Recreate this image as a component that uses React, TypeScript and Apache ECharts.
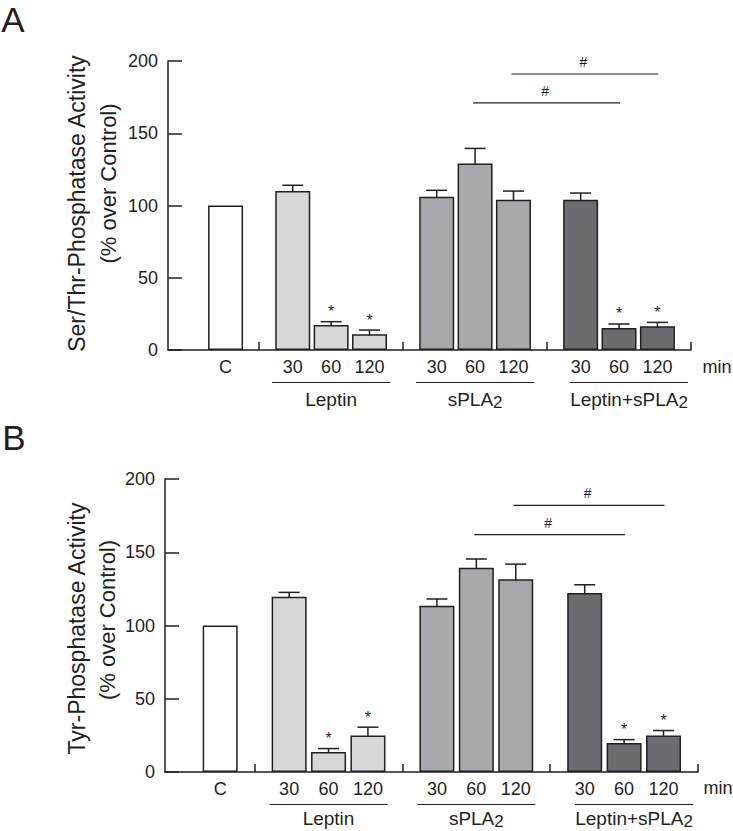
import React, { useEffect, useRef } from "react";
import * as echarts from "echarts";

// ---------- data ----------
const groups = ["Leptin", "sPLA2", "Leptin+sPLA2"];
const times = ["30", "60", "120"];
const controlLabel = "C";
const unitLabel = "min";

// Panel A: Ser/Thr-phosphatase activity (% over control)
const controlA = 100;
const leptinA = [110, 17.3, 10.9];
const leptinErrA = [4, 2.3, 2.9];
const splaA = [106, 129, 104];
const splaErrA = [4.5, 10.5, 6];
const bothA = [104, 15.2, 16.4];
const bothErrA = [4.6, 2.8, 2.7];
const starsA = [
  [false, true, true],
  [false, false, false],
  [false, true, true],
];
// [timeIndex, level]: sPLA2 vs Leptin+sPLA2 at same time
const hashA = [
  [1, 171],
  [2, 191],
];

// Panel B: Tyr-phosphatase activity (% over control)
const controlB = 100;
const leptinB = [119.6, 13.7, 24.9];
const leptinErrB = [3, 2.3, 5.7];
const splaB = [113.5, 139.5, 131.5];
const splaErrB = [4.6, 5.9, 10.4];
const bothB = [122.1, 19.8, 24.9];
const bothErrB = [5.7, 2.3, 3.4];
const starsB = [
  [false, true, true],
  [false, false, false],
  [false, true, true],
];
const hashB = [
  [1, 162],
  [2, 182],
];

const yTitlesA = ["Ser/Thr-Phosphatase Activity", "(% over Control)"];
const yTitlesB = ["Tyr-Phosphatase Activity", "(% over Control)"];

// ---------- styles ----------
const FONT = '"Liberation Sans", Arial, Helvetica, sans-serif';
const INK = "#231f20";
const controlColor = "#ffffff";
const groupColors = ["#d6d7d9", "#a7a8ab", "#6b6c70"];

// layout in axis units: control at 0, groups start at 7, step 15, bar pitch 4
const posOf = (g: number, i: number) => 7 + 15 * g + 4 * i;
const groupCenter = (g: number) => posOf(g, 1);
const separators = [0, 1, 2, 3].map((g) => posOf(g, 0) - 3.5);

const richName = (name: string) =>
  "{m|" + name.replace(/([A-Za-z])2$/, "$1}{s|2") + "}";

function buildPanel(
  idx: number,
  control: number,
  means: number[][],
  errs: number[][],
  stars: boolean[][],
  hashes: number[][],
  nameOffset: number
) {
  const barData: any[] = [
    { value: [0, control], itemStyle: { color: controlColor } },
  ];
  const errData: any[] = [];
  means.forEach((arr, g) =>
    arr.forEach((v, i) => {
      barData.push({ value: [posOf(g, i), v], itemStyle: { color: groupColors[g] } });
      errData.push([posOf(g, i), v, errs[g][i], stars[g][i] ? 1 : 0]);
    })
  );
  const hashData = hashes.map(([t, lvl]) => [posOf(1, t), posOf(2, t), lvl]);
  const groupData = groups.map((_, g) => [groupCenter(g), 0]);

  const common = { xAxisIndex: idx, yAxisIndex: idx, silent: true };
  return [
    {
      ...common,
      type: "bar",
      barWidth: 35,
      data: barData,
      itemStyle: { borderColor: INK, borderWidth: 1.5 },
    },
    {
      ...common,
      type: "custom",
      clip: false,
      z: 5,
      data: errData,
      renderItem: (params: any, api: any) => {
        const x = api.value(0);
        const v = api.value(1);
        const e = api.value(2);
        const s = api.value(3);
        const p0 = api.coord([x, v]);
        const p1 = api.coord([x, v + e]);
        const ls = { stroke: INK, lineWidth: 1.5 };
        const children: any[] = [
          { type: "line", shape: { x1: p0[0], y1: p0[1] + 1, x2: p1[0], y2: p1[1] }, style: ls },
          { type: "line", shape: { x1: p1[0] - 10.5, y1: p1[1], x2: p1[0] + 10.5, y2: p1[1] }, style: ls },
        ];
        if (s) {
          children.push({
            type: "text",
            style: {
              text: "*",
              x: p1[0],
              y: p1[1] - 10,
              align: "center",
              verticalAlign: "middle",
              font: `16px ${FONT}`,
              fill: INK,
            },
          });
        }
        return { type: "group", children };
      },
    },
    {
      ...common,
      type: "custom",
      clip: false,
      data: hashData,
      renderItem: (params: any, api: any) => {
        const a = api.coord([api.value(0), api.value(2)]);
        const b = api.coord([api.value(1), api.value(2)]);
        return {
          type: "group",
          children: [
            { type: "line", shape: { x1: a[0] - 2, y1: a[1], x2: b[0] + 1, y2: b[1] }, style: { stroke: INK, lineWidth: 1.2 } },
            {
              type: "text",
              style: {
                text: "#",
                x: (a[0] + b[0]) / 2 - 2,
                y: a[1] - 12,
                align: "center",
                verticalAlign: "middle",
                font: `14px ${FONT}`,
                fill: INK,
              },
            },
          ],
        };
      },
    },
    {
      ...common,
      type: "custom",
      clip: false,
      data: groupData,
      renderItem: (params: any, api: any) => {
        const p = api.coord([api.value(0), api.value(1)]);
        const shift = params.dataIndex === 2 ? 10 : 0;
        return {
          type: "group",
          children: [
            { type: "line", shape: { x1: p[0] - 59 + shift, y1: p[1] + 32.5, x2: p[0] + 59 + shift, y2: p[1] + 32.5 }, style: { stroke: INK, lineWidth: 1.2 } },
            {
              type: "text",
              style: {
                text: richName(groups[params.dataIndex]),
                x: p[0] + shift,
                y: p[1] + nameOffset,
                align: "center",
                verticalAlign: "middle",
                fill: INK,
                rich: {
                  m: { fontSize: 19, fontFamily: FONT, fill: INK, color: INK },
                  s: { fontSize: 17, fontFamily: FONT, fill: INK, color: INK, padding: [7, 0, 0, 0] },
                },
              },
            },
          ],
        };
      },
    },
  ];
}

const labelMap: Record<string, string> = { "0": controlLabel };
groups.forEach((_, g) => times.forEach((t, i) => (labelMap[String(posOf(g, i))] = t)));
const labelPositions = [0, ...groups.flatMap((_, g) => times.map((__, i) => posOf(g, i)))];

function xAxis(idx: number, min: number) {
  return {
    type: "value",
    gridIndex: idx,
    min,
    max: separators[separators.length - 1],
    splitLine: { show: false },
    axisLine: { show: true, onZero: false, lineStyle: { color: INK, width: 1.5 } },
    axisTick: { show: true, inside: true, length: 8, customValues: separators, lineStyle: { color: INK, width: 1.5 } },
    axisLabel: {
      customValues: labelPositions,
      formatter: (v: number) => labelMap[String(v)] ?? "",
      fontSize: 18,
      fontFamily: FONT,
      color: INK,
      margin: 8,
    },
  };
}

function yAxis(idx: number) {
  return {
    type: "value",
    gridIndex: idx,
    min: 0,
    max: 200,
    interval: 50,
    splitLine: { show: false },
    axisLine: { show: true, onZero: false, lineStyle: { color: INK, width: 1.5 } },
    axisTick: { show: true, inside: true, length: 14, lineStyle: { color: INK, width: 1.5 } },
    axisLabel: { fontSize: 18, fontFamily: FONT, color: INK, margin: 10 },
  };
}

function txt(text: string, x: number, y: number, size: number, rot = 0) {
  return {
    type: "text",
    x,
    y,
    rotation: rot,
    silent: true,
    style: {
      text,
      align: "center",
      verticalAlign: "middle",
      font: `${size}px ${FONT}`,
      fill: INK,
    },
  };
}

export default function App() {
  const ref = useRef<HTMLDivElement>(null);
  useEffect(() => {
    if (!ref.current) return;
    const chart = echarts.init(ref.current, undefined, { renderer: "svg" });
    const option: any = {
      animation: false,
      backgroundColor: "#ffffff",
      textStyle: { fontFamily: FONT },
      grid: [
        { left: 168, top: 61, width: 523, height: 289 },
        { left: 165, top: 479, width: 533, height: 293 },
      ],
      xAxis: [xAxis(0, -6), xAxis(1, -5.6)],
      yAxis: [yAxis(0), yAxis(1)],
      series: [
        ...buildPanel(0, controlA, [leptinA, splaA, bothA], [leptinErrA, splaErrA, bothErrA], starsA, hashA, 49),
        ...buildPanel(1, controlB, [leptinB, splaB, bothB], [leptinErrB, splaErrB, bothErrB], starsB, hashB, 46),
      ],
      graphic: [
        txt("A", 13, 19, 35),
        txt("B", 14, 437, 35),
        txt(yTitlesA[0], 77, 203.5, 23, Math.PI / 2),
        txt(yTitlesA[1], 108, 183.5, 22, Math.PI / 2),
        txt(yTitlesB[0], 77, 628.5, 23, Math.PI / 2),
        txt(yTitlesB[1], 107, 620, 22, Math.PI / 2),
        txt(unitLabel, 717, 367, 18),
        txt(unitLabel, 718, 788, 18),
      ],
    };
    chart.setOption(option);
    return () => chart.dispose();
  }, []);
  return (
    <div
      ref={ref}
      style={{ position: "fixed", left: 0, top: 0, width: 733, height: 831, background: "#fff" }}
    />
  );
}
